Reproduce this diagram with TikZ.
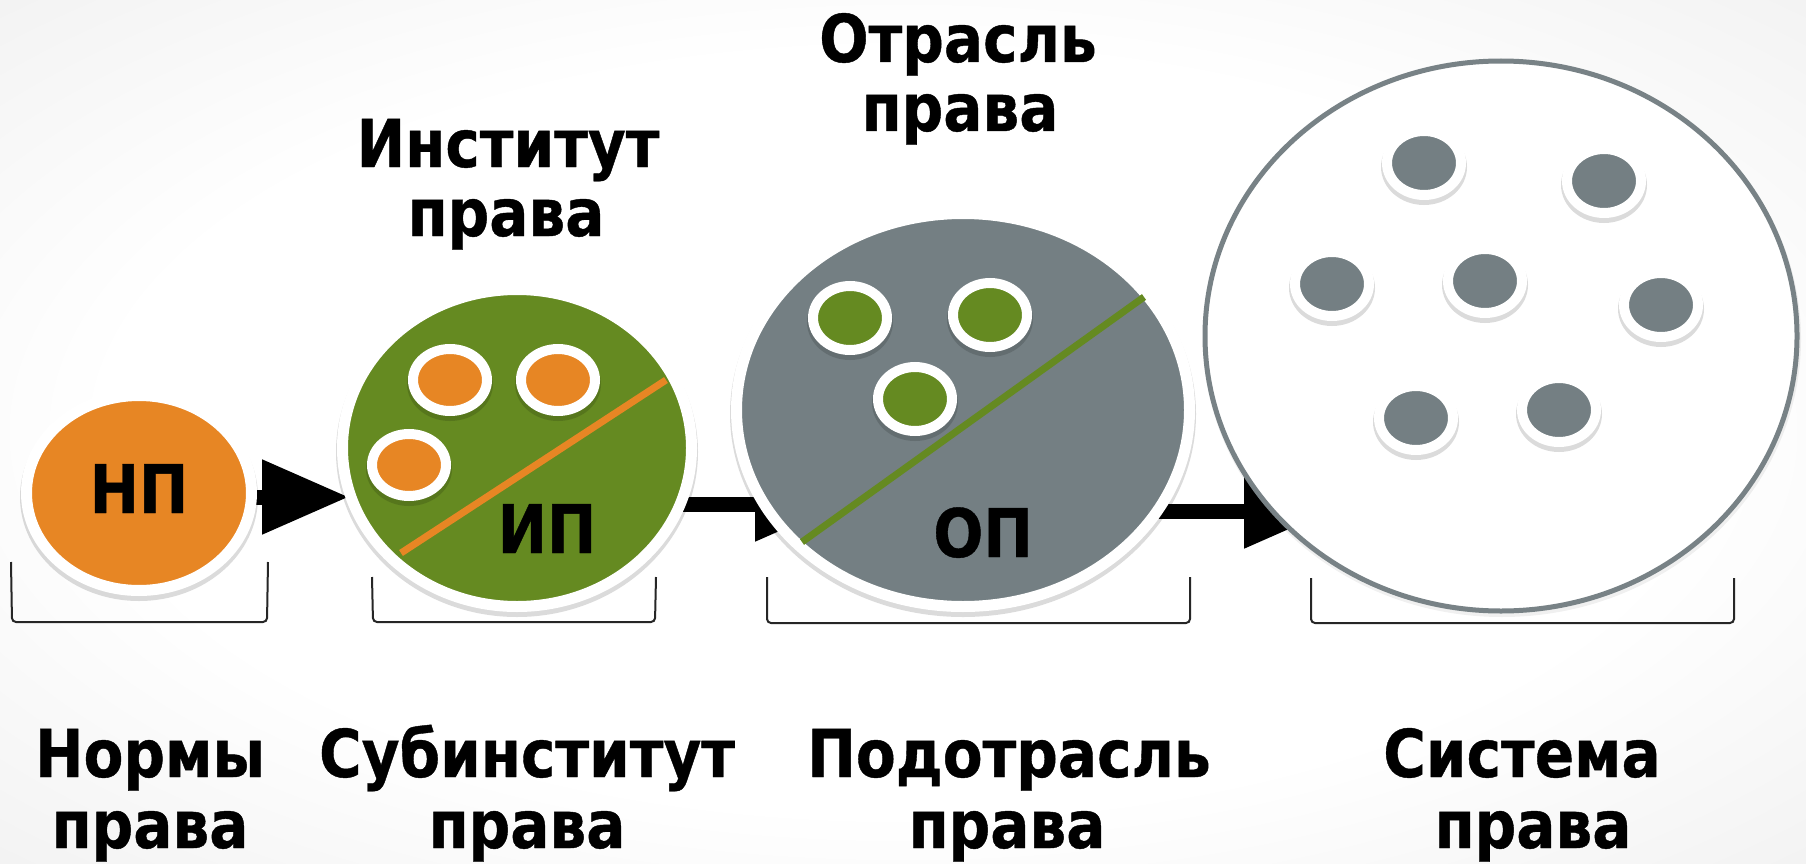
\documentclass[tikz,border=0pt]{standalone}
\usepackage{fontspec}
\setmainfont{DejaVu Sans}
\newfontfamily\lblfont{DejaVu Sans}[FakeStretch=0.88,FakeBold=0.6]
\usetikzlibrary{shapes.geometric,arrows.meta}
\definecolor{orng}{RGB}{231,134,36}
\definecolor{grn}{RGB}{101,138,33}
\definecolor{slate}{RGB}{116,127,131}
\definecolor{sysgray}{RGB}{120,130,134}
\pgfdeclarelayer{back}
\pgfdeclarelayer{arr}
\pgfsetlayers{back,arr,main}
\pgfdeclareradialshading{bgsh}{\pgfpoint{0bp}{0bp}}{color(0bp)=(white); color(22bp)=(white); color(50bp)=(black!10)}
\tikzset{
  shadowc/.style={fill=black, opacity=0.14},
  bigarrow/.style={line width=15pt, black, -{Triangle[length=87pt,width=71pt]}},
  brk/.style={draw=black!85, line width=2pt, rounded corners=4pt},
  lbl/.style={font={\lblfont\bfseries\fontsize{66}{70}\selectfont}, anchor=base, inner sep=0pt, text=black},
  abbr/.style={font={\lblfont\bfseries\fontsize{67}{70}\selectfont}, anchor=base, inner sep=0pt, text=black},
}
\newcommand\ringnode[7]{%
  \fill[shadowc] (#2,#3+4) ellipse ({#4+#7+1} and {#5+#7+1});
  \node[ellipse, inner sep=0pt, outer sep=0pt, minimum width={(2*#4+#7)*1pt}, minimum height={(2*#5+#7)*1pt}, fill=#6, draw=white, line width=#7pt] (#1) at (#2,#3) {};}
\begin{document}
\begin{tikzpicture}[x=1pt,y=-1pt]
\useasboundingbox (0,0) rectangle (1806,864);
\begin{pgfonlayer}{back}
\shade[shading=bgsh] (0,0) rectangle (1806,864);
\end{pgfonlayer}

% main circles
\ringnode{np}{139}{493}{107}{92}{orng}{11}
\ringnode{ip}{517}{448}{169}{153}{grn}{11}
\ringnode{op}{963}{410}{221}{191}{slate}{11}
\fill[black, opacity=0.06] (1502,339) ellipse (299 and 278);
\node[ellipse, inner sep=0pt, outer sep=0pt, minimum width=592pt, minimum height=550pt, fill=white, draw=sysgray, line width=5pt] (sys) at (1501,336) {};

% dividing lines
\draw[orng, line width=7pt] (401,553) -- (666,380);
\draw[grn, line width=7pt] (802,542) -- (1144,297);

% small circles in IP
\ringnode{ic1}{450}{380}{32}{26}{orng}{10}
\ringnode{ic2}{558}{380}{32}{26}{orng}{10}
\ringnode{ic3}{409}{465}{32}{26}{orng}{10}
% small circles in OP
\ringnode{oc1}{850}{318}{32}{27}{grn}{10}
\ringnode{oc2}{990}{315}{32}{27}{grn}{10}
\ringnode{oc3}{915}{399}{32}{27}{grn}{10}
% small circles in system
\ringnode{sc1}{1424}{163}{32}{27}{slate}{10}
\ringnode{sc2}{1604}{181}{32}{27}{slate}{10}
\ringnode{sc3}{1332}{284}{32}{27}{slate}{10}
\ringnode{sc4}{1485}{281}{32}{27}{slate}{10}
\ringnode{sc5}{1661}{305}{32}{27}{slate}{10}
\ringnode{sc6}{1416}{418}{32}{27}{slate}{10}
\ringnode{sc7}{1559}{410}{32}{27}{slate}{10}

% abbreviations
\node[abbr] (npt) at (139,513) {НП};
\node[abbr] (ipt) at (547,553) {ИП};
\node[abbr] (opt) at (983,557) {ОП};

% arrows (behind circles)
\coordinate (t1) at (349,497);
\coordinate (t2) at (842,504);
\coordinate (t3) at (1331,511);
\begin{pgfonlayer}{arr}
\draw[bigarrow] (np.center |- t1) -- (t1);
\draw[bigarrow] (ip.center |- t2) -- (t2);
\draw[bigarrow] (op.center |- t3) -- (t3);
\end{pgfonlayer}

% brackets
\draw[brk] (11,562) -- (12,622) -- (267,622) -- (268,562);
\draw[brk] (372,577) -- (373,622) -- (655,622) -- (656,577);
\draw[brk] (767,577) -- (767,623) -- (1190,623) -- (1190,577);
\draw[brk] (1311,578) -- (1311,623) -- (1734,623) -- (1734,578);

% top labels
\node[lbl] (ti1) at (508,167) {Институт};
\node[lbl] (ti2) at (506,236) {права};
\node[lbl] (to1) at (958,62) {Отрасль};
\node[lbl] (to2) at (960,131) {права};

% bottom labels
\node[lbl] (b11) at (150,777) {Нормы};
\node[lbl] (b12) at (150,848) {права};
\node[lbl] (b21) at (527,777) {Субинститут};
\node[lbl] (b22) at (527,848) {права};
\node[lbl] (b31) at (1009,777) {Подотрасль};
\node[lbl] (b32) at (1007,848) {права};
\node[lbl] (b41) at (1522,777) {Система};
\node[lbl] (b42) at (1533,848) {права};
\end{tikzpicture}
\end{document}
